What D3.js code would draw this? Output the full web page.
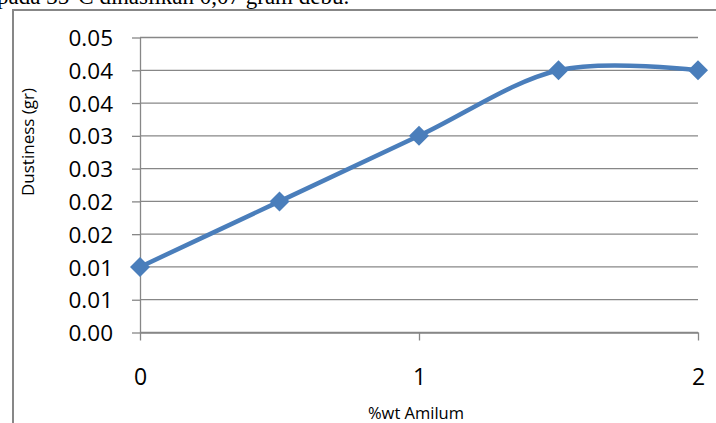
<!DOCTYPE html>
<html>
<head>
<meta charset="utf-8">
<script src="https://cdn.jsdelivr.net/npm/d3@7"></script>
<style>
  html, body { margin: 0; padding: 0; background: #ffffff; }
  svg { display: block; }
</style>
</head>
<body>
<svg id="chart" width="716" height="423"></svg>
<script>
// Dustiness of the product versus starch (amilum) loading
const amilumPct = [0, 0.5, 1, 1.5, 2];
const dustiness = [0.010, 0.020, 0.030, 0.040, 0.040];

const yTickValues = [0, 0.005, 0.010, 0.015, 0.020, 0.025, 0.030, 0.035, 0.040, 0.045];
const yTickLabels = ["0.00", "0.01", "0.01", "0.02", "0.02", "0.03", "0.03", "0.04", "0.04", "0.05"];
const xTickValues = [0, 1, 2];
const xTickLabels = ["0", "1", "2"];

const captionText = "pada 35°C dihasilkan 0,07 gram debu.";
const xTitle = "%wt Amilum";
const yTitle = "Dustiness (gr)";

const svg = d3.select("#chart");
const sans = "'Open Sans', 'Noto Sans', sans-serif";
const gridColor = "#878787";
const seriesColor = "#4a7ebb";

const x = d3.scaleLinear().domain([0, 2]).range([140, 698]);
const y = d3.scaleLinear().domain([0, 0.045]).range([332.5, 37.5]);

// running text of the surrounding document, clipped at the top edge
svg.append("text")
  .attr("x", -3).attr("y", 4)
  .attr("font-family", "'Liberation Serif', 'Times New Roman', serif")
  .attr("font-size", 23)
  .attr("fill", "#000")
  .text(captionText);

// chart frame (left and top edges visible)
svg.append("path")
  .attr("d", "M13,424 L13,10 L717,10")
  .attr("fill", "none")
  .attr("stroke", gridColor)
  .attr("stroke-width", 2);

// horizontal gridlines
svg.append("g")
  .selectAll("line")
  .data(yTickValues)
  .join("line")
  .attr("x1", x(0)).attr("x2", x(2))
  .attr("y1", d => y(d)).attr("y2", d => y(d))
  .attr("stroke", gridColor)
  .attr("stroke-width", 1.3);

// y axis
const yAxis = d3.axisLeft(y)
  .tickValues(yTickValues)
  .tickFormat((d, i) => yTickLabels[i])
  .tickSize(8)
  .tickSizeOuter(0)
  .tickPadding(19);
const gy = svg.append("g").attr("transform", `translate(${x(0)},0)`).call(yAxis);
gy.select(".domain").attr("stroke", gridColor).attr("stroke-width", 1.3);
gy.selectAll(".tick line").attr("stroke", gridColor).attr("stroke-width", 1.3);
gy.selectAll(".tick text")
  .attr("font-family", sans).attr("font-size", 22.5).attr("fill", "#000")
  .attr("dy", "0.36em");

// x axis
const xAxis = d3.axisBottom(x)
  .tickValues(xTickValues)
  .tickFormat((d, i) => xTickLabels[i])
  .tickSize(8)
  .tickSizeOuter(0)
  .tickPadding(0);
const gx = svg.append("g").attr("transform", `translate(0,${y(0)})`).call(xAxis);
gx.select(".domain").attr("stroke", gridColor).attr("stroke-width", 1.3);
gx.selectAll(".tick line").attr("stroke", gridColor).attr("stroke-width", 1.3);
gx.selectAll(".tick text")
  .attr("font-family", sans).attr("font-size", 23).attr("fill", "#000")
  .attr("y", 52).attr("dy", 0);

// axis titles
svg.append("text")
  .attr("x", 416).attr("y", 419)
  .attr("text-anchor", "middle")
  .attr("font-family", sans).attr("font-size", 16.5).attr("fill", "#000")
  .text(xTitle);

svg.append("text")
  .attr("transform", "translate(34,142) rotate(-90)")
  .attr("text-anchor", "middle")
  .attr("font-family", sans).attr("font-size", 17).attr("fill", "#000")
  .text(yTitle);

// smoothed series line
const points = amilumPct.map((v, i) => [v, dustiness[i]]);
const line = d3.line()
  .x(d => x(d[0]))
  .y(d => y(d[1]))
  .curve(d3.curveCardinal.tension(0));

svg.append("path")
  .datum(points)
  .attr("d", line)
  .attr("fill", "none")
  .attr("stroke", seriesColor)
  .attr("stroke-width", 4.5)
  .attr("stroke-linecap", "round");

// diamond markers
const diamond = d3.symbol().type(d3.symbolSquare).size(200);
svg.append("g")
  .selectAll("path")
  .data(points)
  .join("path")
  .attr("d", diamond)
  .attr("transform", d => `translate(${x(d[0])},${y(d[1])}) rotate(45)`)
  .attr("fill", seriesColor);
</script>
</body>
</html>
